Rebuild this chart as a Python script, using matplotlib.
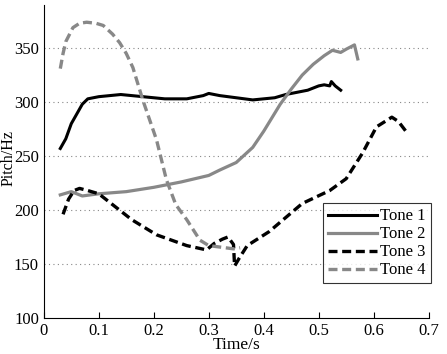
import numpy as np
import matplotlib
matplotlib.use('Agg')
import matplotlib.pyplot as plt

plt.rcParams['font.family'] = ['Liberation Serif', 'DejaVu Serif']

# Tone contours (time in s, pitch in Hz)
T1_T = [0.03, 0.04, 0.05, 0.06, 0.07, 0.08, 0.10, 0.14, 0.18, 0.22, 0.26, 0.29, 0.30,
        0.32, 0.35, 0.38, 0.42, 0.44, 0.46, 0.48, 0.50, 0.51, 0.52, 0.523, 0.53, 0.54]
T1_F = [257, 266, 280, 289, 298, 303, 305, 307, 305, 303, 303, 306, 308,
        306, 304, 302, 304, 307, 309, 311, 315, 316, 315, 319, 315, 311]

T2_T = [0.03, 0.05, 0.07, 0.10, 0.15, 0.20, 0.22, 0.25, 0.30, 0.32, 0.35, 0.38, 0.40,
        0.43, 0.45, 0.47, 0.49, 0.51, 0.525, 0.54, 0.55, 0.565, 0.571]
T2_F = [214, 217, 213, 215, 217, 221, 223, 226, 232, 237, 244, 258, 273,
        298, 312, 325, 335, 343, 348, 346, 349, 353, 340]

T3_T = [0.035, 0.045, 0.055, 0.065, 0.08, 0.10, 0.13, 0.16, 0.205, 0.26, 0.296, 0.31,
        0.325, 0.335, 0.345, 0.347, 0.355, 0.37, 0.41, 0.47, 0.52, 0.55, 0.58, 0.605,
        0.633, 0.645, 0.66]
T3_F = [196, 210, 218, 220, 218, 215, 203, 191, 177, 167, 163, 169,
        173, 175, 168, 148, 155, 167, 180, 206, 218, 229, 253, 277,
        286, 282, 272]

T4_T = [0.03, 0.035, 0.04, 0.053, 0.065, 0.078, 0.095, 0.108, 0.125, 0.138, 0.15, 0.162,
        0.18, 0.205, 0.223, 0.24, 0.26, 0.284, 0.30, 0.315, 0.33, 0.345, 0.357]
T4_F = [331, 345, 356, 369, 373, 374, 373, 371, 363, 355, 345, 332,
        302, 265, 228, 205, 191, 172, 167, 166, 165, 164, 165]

XTICKS = [0, 0.1, 0.2, 0.3, 0.4, 0.5, 0.6, 0.7]
YTICKS = [100, 150, 200, 250, 300, 350]

fig = plt.figure(figsize=(4.47, 3.54), dpi=100)
ax = fig.add_axes([0.098, 0.102, 0.861, 0.884])

for y in YTICKS[1:]:
    ax.axhline(y, color='#888888', linestyle=(0, (1, 3)), linewidth=0.8, zorder=0)

dash = (0, (2.7, 1.4))
ax.plot(T1_T, T1_F, color='black', linewidth=2.2, label='Tone 1', solid_joinstyle='round')
ax.plot(T2_T, T2_F, color='#888888', linewidth=2.3, label='Tone 2', solid_joinstyle='round')
ax.plot(T3_T, T3_F, color='black', linewidth=2.4, linestyle=dash, label='Tone 3')
ax.plot(T4_T, T4_F, color='#888888', linewidth=2.4, linestyle=dash, label='Tone 4')

ax.set_xlim(0, 0.7)
ax.set_ylim(100, 390)
ax.set_xticks(XTICKS)
ax.set_xticklabels(['0', '0.1', '0.2', '0.3', '0.4', '0.5', '0.6', '0.7'])
ax.set_yticks(YTICKS)
ax.tick_params(axis='both', direction='in', labelsize=12, length=4, width=0.8)
ax.tick_params(axis='y', length=0)
ax.spines['top'].set_visible(False)
ax.spines['right'].set_visible(False)
ax.set_xlabel('Time/s', fontsize=12.5, labelpad=-1)
ax.set_ylabel('Pitch/Hz', fontsize=11.5)
ax.yaxis.set_label_coords(-0.072, 0.51)

leg = ax.legend(loc='lower right', bbox_to_anchor=(1.005, 0.11), fontsize=12,
                frameon=True, fancybox=False, handlelength=2.9, handletextpad=0.2,
                labelspacing=0.12, borderpad=0.3, borderaxespad=0)
leg.get_frame().set_edgecolor('black')
leg.get_frame().set_linewidth(0.8)

fig.savefig('out.png', dpi=100)
